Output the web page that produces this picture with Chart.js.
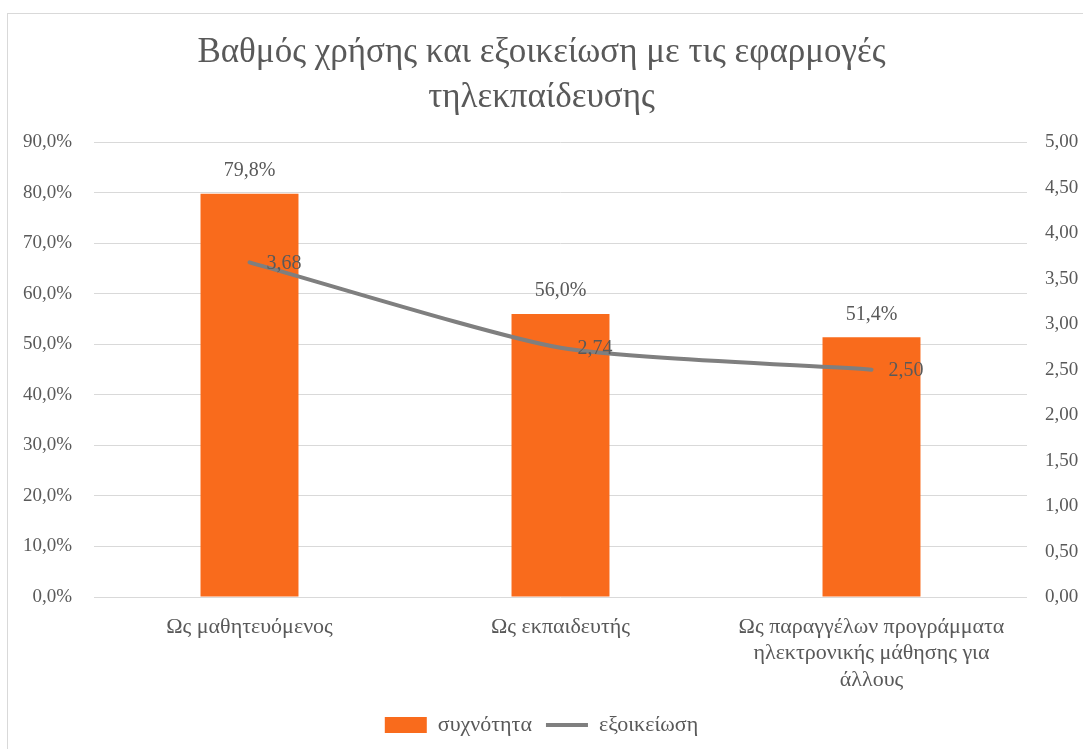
<!DOCTYPE html>
<html lang="el">
<head>
  <meta charset="UTF-8">
  <title>Βαθμός χρήσης και εξοικείωση</title>
  <style>
    body { margin: 0; background: #fff; }
    .wrap { position: relative; width: 1083px; height: 749px; overflow: hidden; }
    .frame {
      position: absolute; left: 7px; top: 13px; width: 1100px; height: 760px;
      border: 1px solid #d9d9d9; pointer-events: none;
    }
  </style>
</head>
<body>
  <div class="wrap">
    <canvas id="usageChart" width="1083" height="749"></canvas>
    <div class="frame"></div>
  </div>
  <script src="https://cdn.jsdelivr.net/npm/chart.js"></script>
  <script>
    const categories = [
      'Ως μαθητευόμενος',
      'Ως εκπαιδευτής',
      ['Ως παραγγέλων προγράμματα', 'ηλεκτρονικής μάθησης για', 'άλλους']
    ];
    const frequency = [79.8, 56.0, 51.4];      // συχνότητα (%)
    const familiarity = [3.68, 2.74, 2.50];    // εξοικείωση (1-5)
    const leftTicks = [0, 10, 20, 30, 40, 50, 60, 70, 80, 90];
    const rightTicks = [0, 0.5, 1, 1.5, 2, 2.5, 3, 3.5, 4, 4.5, 5];

    const textColor = '#595959';
    const fontFamily = '"Liberation Serif", "DejaVu Serif", serif';

    const comma = (v, d) => v.toFixed(d).replace('.', ',');

    // value labels: above the bars, right of the line points
    const valueLabels = {
      id: 'valueLabels',
      afterDatasetsDraw(chart) {
        const ctx = chart.ctx;
        ctx.save();
        ctx.font = '20px ' + fontFamily;
        ctx.fillStyle = textColor;
        ctx.textBaseline = 'middle';
        chart.getDatasetMeta(0).data.forEach((bar, i) => {
          ctx.textAlign = 'center';
          ctx.fillText(comma(frequency[i], 1) + '%', bar.x, bar.y - 23);
        });
        chart.getDatasetMeta(1).data.forEach((pt, i) => {
          ctx.textAlign = 'left';
          ctx.fillText(comma(familiarity[i], 2), pt.x + 17, pt.y + 1);
        });
        ctx.restore();
      }
    };

    new Chart(document.getElementById('usageChart'), {
      data: {
        labels: categories,
        datasets: [{
          type: 'bar',
          label: 'συχνότητα',
          data: frequency,
          backgroundColor: '#f96b1c',
          borderWidth: 0,
          pointStyle: 'rect',
          categoryPercentage: 0.315,
          barPercentage: 1,
          yAxisID: 'y',
          order: 1
        }, {
          type: 'line',
          label: 'εξοικείωση',
          data: familiarity,
          borderColor: '#7f7f7f',
          backgroundColor: '#7f7f7f',
          borderWidth: 4,
          borderCapStyle: 'round',
          tension: 0.2,
          pointRadius: 0,
          pointStyle: 'line',
          yAxisID: 'y1',
          order: 0
        }]
      },
      options: {
        responsive: false,
        devicePixelRatio: 1,
        animation: false,
        layout: { padding: { top: 0, left: 0, right: 0, bottom: 3 } },
        plugins: {
          title: {
            display: true,
            text: ['Βαθμός χρήσης και εξοικείωση με τις εφαρμογές', 'τηλεκπαίδευσης'],
            color: textColor,
            font: { family: fontFamily, size: 35, weight: 'normal', lineHeight: 1.29 },
            padding: { top: 30, bottom: 22 }
          },
          legend: {
            position: 'bottom',
            labels: {
              color: textColor,
              font: { family: fontFamily, size: 22 },
              usePointStyle: true,
              pointStyleWidth: 42,
              boxHeight: 16,
              padding: 14,
              sort: (a, b) => a.datasetIndex - b.datasetIndex
            }
          },
          tooltip: { enabled: false }
        },
        scales: {
          x: {
            grid: { display: false },
            border: { display: false },
            ticks: {
              color: textColor,
              font: { family: fontFamily, size: 22, lineHeight: 1.2 },
              maxRotation: 0,
              padding: 9
            },
            afterFit: (s) => { s.height = 103; }
          },
          y: {
            position: 'left',
            min: 0,
            max: 90,
            afterBuildTicks: (s) => { s.ticks = leftTicks.map(v => ({ value: v })); },
            grid: { color: '#d9d9d9', lineWidth: 1, drawTicks: false },
            border: { display: false },
            ticks: {
              color: textColor,
              font: { family: fontFamily, size: 19 },
              padding: 22,
              callback: (v) => comma(v, 1) + '%'
            },
            afterFit: (s) => { s.width = 94; }
          },
          y1: {
            position: 'right',
            min: 0,
            max: 5,
            afterBuildTicks: (s) => { s.ticks = rightTicks.map(v => ({ value: v })); },
            grid: { display: false, drawTicks: false },
            border: { display: false },
            ticks: {
              color: textColor,
              font: { family: fontFamily, size: 19 },
              padding: 18,
              callback: (v) => comma(v, 2)
            },
            afterFit: (s) => { s.width = 56; }
          }
        }
      },
      plugins: [valueLabels]
    });
  </script>
</body>
</html>
